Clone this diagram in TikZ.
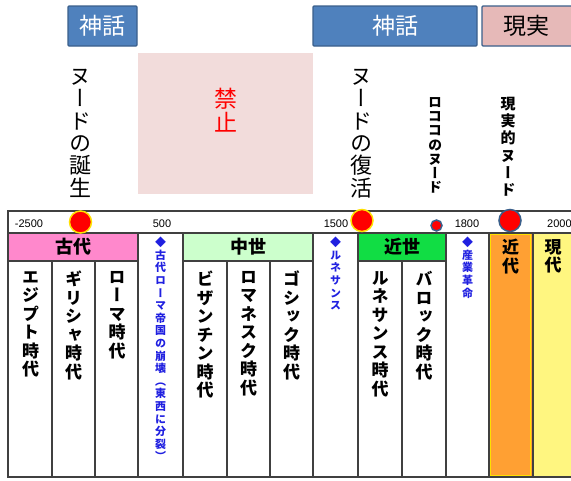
\documentclass[tikz,border=0pt]{standalone}
\usepackage{fontspec}
\setmainfont{Liberation Sans}
\newfontfamily\jp{Noto Sans CJK JP}
\newfontfamily\jpv[RawFeature=+vert]{Noto Sans CJK JP}
\definecolor{boxblue}{HTML}{4F81BD}
\definecolor{boxedge}{HTML}{3A5F8B}
\definecolor{genpink}{HTML}{E6B9B8}
\definecolor{kinbg}{HTML}{F2DCDB}
\definecolor{kodai}{HTML}{FF88CC}
\definecolor{chusei}{HTML}{CCFFCC}
\definecolor{kinsei}{HTML}{11DD44}
\definecolor{kindai}{HTML}{FFA033}
\definecolor{gendai}{HTML}{FFF680}
\definecolor{bluetxt}{HTML}{2020E0}
\definecolor{ln}{HTML}{404040}
\definecolor{ring}{HTML}{FFE000}
\begin{document}
\begin{tikzpicture}[x=1pt,y=-1pt,
  topbox/.style={draw=boxedge,line width=1.2pt,rounded corners=1pt},
  vbig/.style={anchor=north,inner sep=0pt,align=center,font=\jpv\fontsize{22}{22.3}\selectfont},
  vmid/.style={anchor=north,inner sep=0pt,align=center,font=\jpv\bfseries\fontsize{14}{14.3}\selectfont},
  vcol/.style={anchor=north,inner sep=0pt,align=center,font=\jpv\bfseries\fontsize{17}{18.5}\selectfont},
  vblue/.style={anchor=north,inner sep=0pt,align=center,text=bluetxt,font=\jpv\bfseries\fontsize{11}{12.6}\selectfont},
  hdr/.style={inner sep=0pt,font=\jp\bfseries\fontsize{18}{18}\selectfont},
  yr/.style={inner sep=0pt,font=\fontsize{11}{11}\selectfont},
  cell/.style={draw=ln,line width=1.2pt},
  dotY/.style={fill=red,draw=ring,line width=1.5pt},
  dotB/.style={fill=red,draw=boxedge,line width=1.5pt}]
\useasboundingbox (0,0) rectangle (571,480);
% top boxes
\draw[topbox,fill=boxblue] (68,6) rectangle (137,46);
\node[font=\jp\fontsize{23}{23}\selectfont,text=white] (shinwa1) at (102.5,26) {神話};
\draw[topbox,fill=boxblue] (313,6) rectangle (477,46);
\node[font=\jp\fontsize{23}{23}\selectfont,text=white] (shinwa2) at (395,26) {神話};
\draw[topbox,fill=genpink] (482,6) rectangle (575,46);
\node[font=\jp\fontsize{23}{23}\selectfont] (genjitsu) at (526,26) {現実};
% kinshi
\fill[kinbg] (138,53) rectangle (313,194);
\node[vbig,text=red,font=\jpv\fontsize{23}{24}\selectfont] (kinshi) at (225.5,88) {禁\\止};
% vertical titles
\node[vbig] (tanjo) at (80,69) {ヌ\\ー\\ド\\の\\誕\\生};
\node[vbig] (fukkatsu) at (361,69) {ヌ\\ー\\ド\\の\\復\\活};
\node[vmid] (rokoko) at (435,97) {ロ\\コ\\コ\\の\\ヌ\\ー\\ド};
\node[vmid,font=\jpv\bfseries\fontsize{15}{17.2}\selectfont] (genjitsunude) at (508,97) {現\\実\\的\\ヌ\\ー\\ド};
% column fills
\fill[kodai] (9,233) rectangle (138,261);
\fill[chusei] (183,233) rectangle (313,261);
\fill[kinsei] (358,233) rectangle (446,261);
\fill[kindai] (489,233) rectangle (532,477);
\draw[ring,line width=0.8pt] (490.5,234.5) rectangle (530.5,475.5);
\fill[gendai] (533,233) rectangle (575,477);
% timeline frame
\draw[cell] (575,211) -- (8,211) -- (8,477) -- (575,477);
\draw[cell] (8,233) -- (575,233);
\draw[cell] (9,261) -- (138,261);
\draw[cell] (183,261) -- (313,261);
\draw[cell] (358,261) -- (446,261);
\foreach \x in {138,183,313,358,446,489,533} \draw[cell] (\x,233) -- (\x,477);
\foreach \x in {52,95,227,270,402} \draw[cell] (\x,261) -- (\x,477);
% year labels
\node[yr] (y1) at (29,224) {-2500};
\node[yr] (y2) at (162,224) {500};
\node[yr] (y3) at (336,224) {1500};
\node[yr] (y4) at (467,224) {1800};
\node[yr,anchor=west] (y5) at (547,224) {2000};
% dots
\draw[dotY] (80.5,222) circle (11);
\draw[dotY] (362,220.5) circle (11);
\draw[dotB] (436.5,225.5) circle (5.5);
\draw[dotB] (510,220.5) circle (11);
% headers
\node[hdr] (h1) at (73.5,247) {古代};
\node[hdr] (h2) at (248,247) {中世};
\node[hdr] (h3) at (402,247) {近世};
% columns
\node[vcol] (c1) at (30.5,271) {エ\\ジ\\プ\\ト\\時\\代};
\node[vcol] (c2) at (73.5,271) {ギ\\リ\\シ\\ャ\\時\\代};
\node[vcol] (c3) at (117,271) {ロ\\ー\\マ\\時\\代};
\node[vblue] (b1) at (160.5,237) {◆\\古\\代\\ロ\\ー\\マ\\帝\\国\\の\\崩\\壊\\（\\東\\西\\に\\分\\裂\\）};
\node[vcol] (c4) at (205,271) {ビ\\ザ\\ン\\チ\\ン\\時\\代};
\node[vcol] (c5) at (248.5,271) {ロ\\マ\\ネ\\ス\\ク\\時\\代};
\node[vcol] (c6) at (291.5,271) {ゴ\\シ\\ッ\\ク\\時\\代};
\node[vblue] (b2) at (335.5,237) {◆\\ル\\ネ\\サ\\ン\\ス};
\node[vcol] (c7) at (380,271) {ル\\ネ\\サ\\ン\\ス\\時\\代};
\node[vcol] (c8) at (424,271) {バ\\ロ\\ッ\\ク\\時\\代};
\node[vblue] (b3) at (467.5,237) {◆\\産\\業\\革\\命};
\node[vcol] (c9) at (510.5,239) {近\\代};
\node[vcol] (c10) at (553,239) {現\\代};
\end{tikzpicture}
\end{document}
